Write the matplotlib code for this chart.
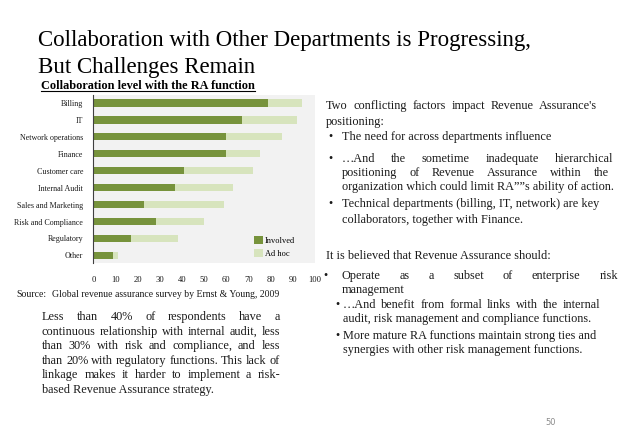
import matplotlib
matplotlib.use('Agg')
import matplotlib.pyplot as plt
from matplotlib.patches import Patch
import numpy as np

# datos del gráfico
categories = ['Billing', 'IT', 'Network operations', 'Finance', 'Customer care',
              'Internal Audit', 'Sales and Marketing', 'Risk and Compliance',
              'Regulatory', 'Other']
involved = [79, 67, 60, 60, 41, 37, 23, 28, 17, 9]
ad_hoc = [15, 25, 25, 15, 31, 26, 36, 22, 21, 2]
x_ticks = [0, 10, 20, 30, 40, 50, 60, 70, 80, 90, 100]

W, H = 638, 442
SERIF = 'Liberation Serif'
DARK = '#77933c'
LIGHT = '#d7e4bd'
TXT = '#1a1a1a'
BODY = 8.8  # tamaño del texto de los párrafos

fig = plt.figure(figsize=(W / 100, H / 100), dpi=100, facecolor='white')
renderer = fig.canvas.get_renderer()


def fx(x):
    return x / W


def fy(y):
    return 1 - y / H


def put_line(text, x0, y, x1=None, size=BODY, **kw):
    # y es la línea base en píxeles; si hay x1 se justifica la línea
    if x1 is None:
        return fig.text(fx(x0), fy(y), text, fontsize=size, family=SERIF,
                        color=TXT, va='baseline', ha='left', **kw)
    words = text.split()
    objs = [fig.text(0, 0, w, fontsize=size, family=SERIF, color=TXT,
                     va='baseline', ha='left', **kw) for w in words]
    widths = [o.get_window_extent(renderer).width for o in objs]
    gap = (x1 - x0 - sum(widths)) / max(len(words) - 1, 1)
    x = x0
    for o, w in zip(objs, widths):
        o.set_position((fx(x), fy(y)))
        x += w + gap


# ============================================================================
# TÍTULO
# ============================================================================
fig.text(fx(38), fy(46), 'Collaboration with Other Departments is Progressing,',
         fontsize=16.5, family=SERIF, color='black', va='baseline')
fig.text(fx(38), fy(73), 'But Challenges Remain',
         fontsize=16.5, family=SERIF, color='black', va='baseline')

sub = fig.text(fx(41), fy(89), 'Collaboration level with the RA function',
               fontsize=8.8, family=SERIF, fontweight='bold', color='black',
               va='baseline')
sw = sub.get_window_extent(renderer).width
fig.add_artist(plt.Line2D([fx(41), fx(41 + sw)], [fy(91), fy(91)],
                          color='black', lw=0.8))

# ============================================================================
# GRÁFICO DE BARRAS
# ============================================================================
ax = fig.add_axes([fx(93.5), fy(263), (315 - 93.5) / W, 168 / H])
ax.set_facecolor('#f2f2f2')
ypos = np.arange(len(categories))[::-1]
ax.barh(ypos, involved, height=0.43, color=DARK, zorder=2)
ax.barh(ypos, ad_hoc, left=involved, height=0.43, color=LIGHT, zorder=2)

ax.set_xlim(0, 100)
ax.set_ylim(-0.45, 9.47)
ax.set_yticks(ypos)
ax.set_yticklabels(categories, family=SERIF, fontsize=5.8, color=TXT)
ax.set_xticks(x_ticks)
ax.set_xticklabels([str(t) for t in x_ticks], family=SERIF, fontsize=6.2, color=TXT)
ax.tick_params(axis='both', length=0)
ax.tick_params(axis='x', pad=9)
ax.tick_params(axis='y', pad=7.5)
for s in ['top', 'right', 'bottom']:
    ax.spines[s].set_visible(False)
ax.spines['left'].set_color('#404040')
ax.spines['left'].set_linewidth(0.8)

handles = [Patch(facecolor=DARK, label='Involved'),
           Patch(facecolor=LIGHT, label='Ad hoc')]
ax.legend(handles=handles, loc='lower left', bbox_to_anchor=(0.725, 0.03),
          frameon=False, prop={'family': SERIF, 'size': 6},
          handlelength=1.1, handleheight=1.1, handletextpad=0.2,
          labelspacing=0.55, borderpad=0, borderaxespad=0)

fig.text(fx(16), fy(297), 'Source:', fontsize=7, family=SERIF, color=TXT,
         va='baseline')
fig.text(fx(52), fy(297), 'Global revenue assurance survey by Ernst & Young, 2009',
         fontsize=7, family=SERIF, color=TXT, va='baseline')

# ============================================================================
# TEXTO IZQUIERDO
# ============================================================================
left_lines = [
    ('Less than 40% of respondents have a', True),
    ('continuous relationship with internal audit, less', True),
    ('than 30% with risk and compliance, and less', True),
    ('than 20% with regulatory functions. This lack of', True),
    ('linkage makes it harder to implement a risk-', True),
    ('based Revenue Assurance strategy.', False),
]
left_y = [320, 335, 349, 364, 378, 393]
for (txt, just), y in zip(left_lines, left_y):
    put_line(txt, 42, y, 280 if just else None)

# ============================================================================
# TEXTO DERECHO
# ============================================================================
put_line("Two conflicting factors impact Revenue Assurance's", 326, 109, 597)
put_line('positioning:', 326, 125)

put_line('\u2022', 328, 140)
put_line('The need for across departments influence', 342, 140)
put_line('\u2022', 328, 162)
put_line('\u2026And the sometime inadequate hierarchical', 342, 162, 613)
put_line('positioning of Revenue Assurance within the', 342, 176, 609)
put_line('organization which could limit RA\u201d\u201ds ability of action.', 342, 190)
put_line('\u2022', 328, 207)
put_line('Technical departments (billing, IT, network) are key', 342, 207)
put_line('collaborators, together with Finance.', 342, 223)

put_line('It is believed that Revenue Assurance should:', 326, 259)
put_line('\u2022', 323, 279)
put_line('Operate as a subset of enterprise risk', 342, 279, 618)
put_line('management', 342, 293)
put_line('\u2022', 335, 308)
put_line('\u2026And benefit from formal links with the internal', 343, 308, 600)
put_line('audit, risk management and compliance functions.', 343, 322)
put_line('\u2022', 335, 339)
put_line('More mature RA functions maintain strong ties and', 343, 339)
put_line('synergies with other risk management functions.', 343, 353)

fig.text(fx(545), fy(425), '50', fontsize=6, family='DejaVu Sans',
         color='#8c8c8c', va='baseline')

fig.savefig('out.png', dpi=100, facecolor='white')
